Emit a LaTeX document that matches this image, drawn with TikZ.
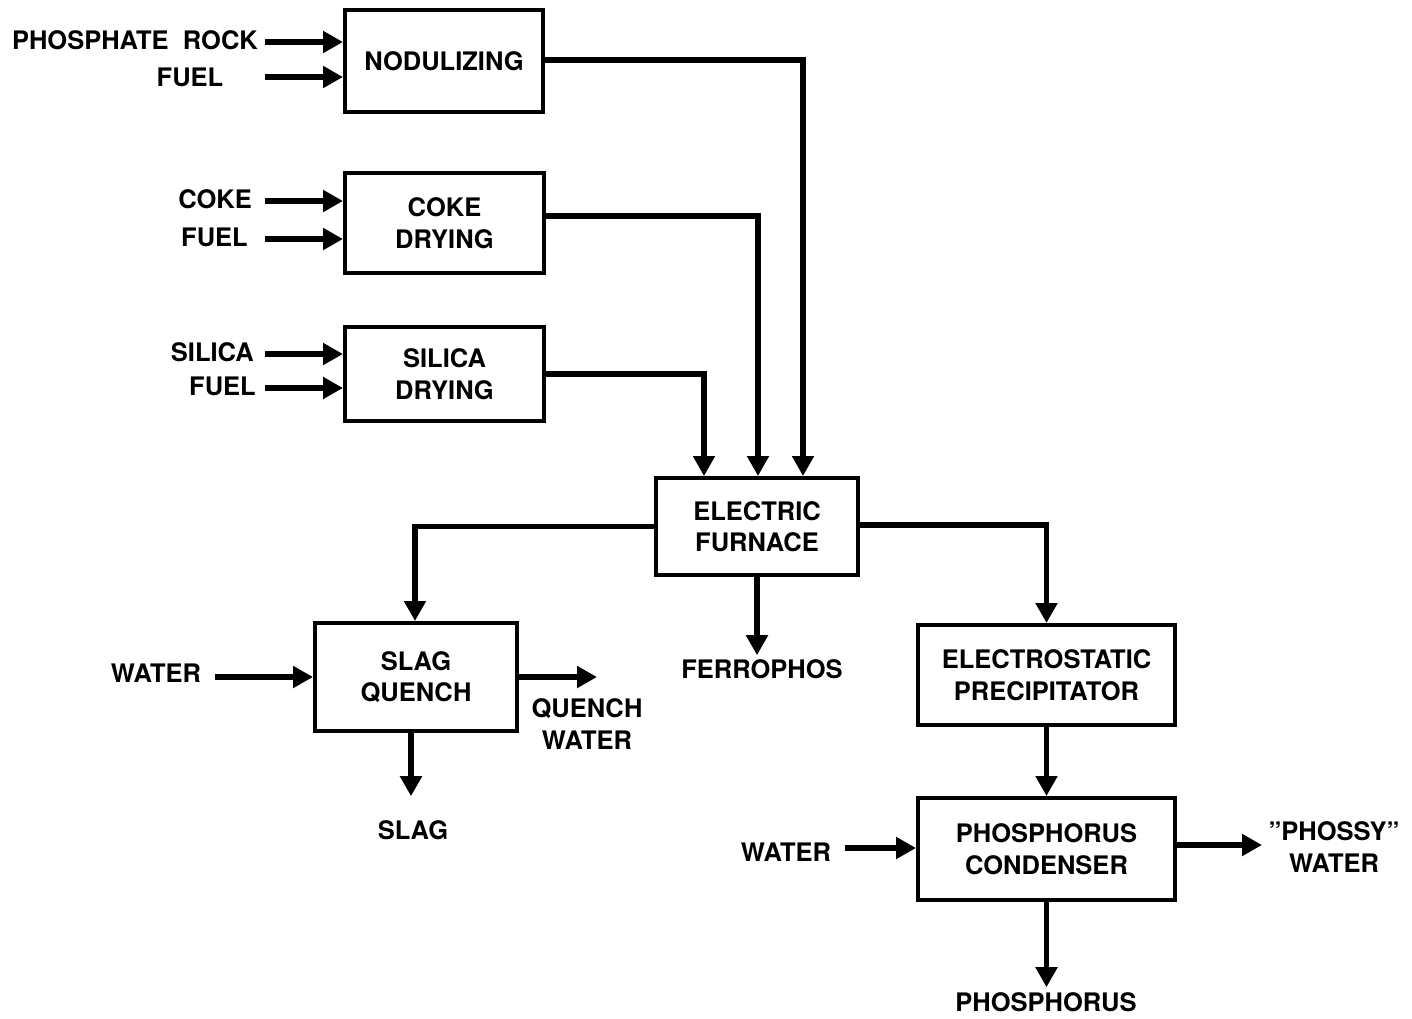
\documentclass[tikz,border=0pt]{standalone}
\usepackage{fontspec}
\setmainfont{TeX Gyre Heros}
\usetikzlibrary{arrows.meta}
\begin{document}
\begin{tikzpicture}[x=1pt,y=-1pt,
  box/.style={draw,line width=4pt,fill=white,inner sep=0pt,align=center,
    font=\fontsize{25.5}{31.5}\selectfont\bfseries},
  lab/.style={inner sep=0pt,align=center,font=\fontsize{25.5}{31.5}\selectfont\bfseries},
  arr/.style={line width=5.5pt,-{Triangle[length=20pt,width=21pt]}},
  ln/.style={line width=5.5pt}]
\useasboundingbox (0,0) rectangle (1412,1018);

% boxes
\node[box,minimum width=198pt,minimum height=102pt] (nod) at (444,61) {NODULIZING};
\node[box,minimum width=199pt,minimum height=100pt] (coke) at (444.5,223) {COKE\\DRYING};
\node[box,minimum width=199pt,minimum height=94pt] (sil) at (444.5,374) {SILICA\\DRYING};
\node[box,minimum width=202pt,minimum height=97pt] (fur) at (757,526.5) {ELECTRIC\\FURNACE};
\node[box,minimum width=202pt,minimum height=108pt] (slag) at (416,677) {SLAG\\QUENCH};
\node[box,minimum width=257pt,minimum height=100pt] (esp) at (1046.5,675) {ELECTROSTATIC\\PRECIPITATOR};
\node[box,minimum width=257pt,minimum height=102pt] (cond) at (1046.5,849) {PHOSPHORUS\\CONDENSER};

% input labels
\node[lab,anchor=east] (pr) at (258,40) {PHOSPHATE\ \ ROCK};
\node[lab] (f1) at (190,77) {FUEL};
\node[lab,anchor=east] (ck) at (252,199) {COKE};
\node[lab,anchor=east] (f2) at (248,237) {FUEL};
\node[lab,anchor=east] (si) at (254,352) {SILICA};
\node[lab,anchor=east] (f3) at (256,386) {FUEL};
\node[lab] (w1) at (156,673) {WATER};
\node[lab] (w2) at (786,852) {WATER};

% output labels
\node[lab] (ferro) at (762,669) {FERROPHOS};
\node[lab] (qw) at (587,724) {QUENCH\\WATER};
\node[lab] (sl) at (413,830) {SLAG};
\node[lab] (ph) at (1334,847) {''PHOSSY''\\WATER};
\node[lab] (p) at (1046,1002) {PHOSPHORUS};

% arrow start / end points
\coordinate (s1) at (265,42);
\coordinate (s2) at (265,77);
\coordinate (s3) at (265,201);
\coordinate (s4) at (265,239);
\coordinate (s5) at (265,354);
\coordinate (s6) at (265,388);
\coordinate (s7) at (215,677);
\coordinate (s8) at (845,848);
\coordinate (eq) at (597,677);
\coordinate (eph) at (1262,845);

% inputs
\draw[arr] (s1) -- (s1 -| nod.west);
\draw[arr] (s2) -- (s2 -| nod.west);
\draw[arr] (s3) -- (s3 -| coke.west);
\draw[arr] (s4) -- (s4 -| coke.west);
\draw[arr] (s5) -- (s5 -| sil.west);
\draw[arr] (s6) -- (s6 -| sil.west);
\draw[arr] (s7) -- (s7 -| slag.west);
\draw[arr] (s8) -- (s8 -| cond.west);

% to furnace
\draw[arr] ([yshift=1pt]nod.east) -| ([xshift=46pt]fur.north);
\draw[arr] ([yshift=7pt]coke.east) -| ([xshift=1pt]fur.north);
\draw[arr] (sil.east) -| ([xshift=-53pt]fur.north);

% from furnace
\draw[arr] (fur.west) -| ([xshift=-1pt]slag.north);
\draw[arr] ([yshift=1.5pt]fur.east) -| (esp.north);
\draw[arr] (fur.south) -- ([yshift=4pt]fur.south |- ferro.north);

% slag quench outputs
\draw[arr] (slag.east) -- (eq);
\draw[arr] ([xshift=-5pt]slag.south) -- ([xshift=-5pt,yshift=24pt]slag.south |- sl.north);

% esp / condenser
\draw[arr] (esp.south) -- (cond.north);
\draw[arr] ([yshift=4pt]cond.east) -- (eph);
\draw[arr] (cond.south) -- ([yshift=5pt]cond.south |- p.north);
\end{tikzpicture}
\end{document}
